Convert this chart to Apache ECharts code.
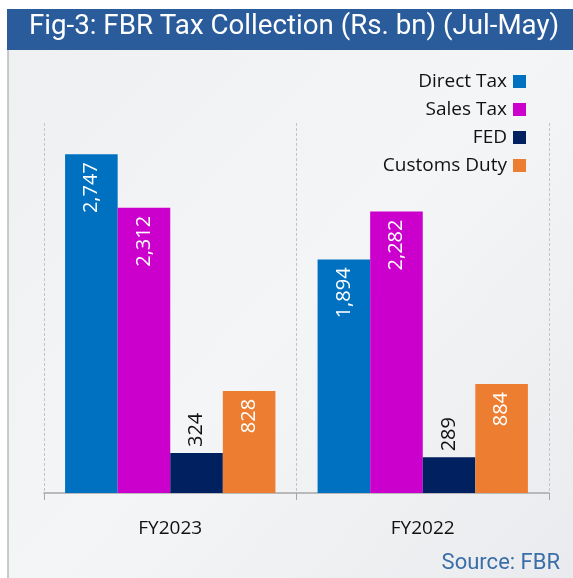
<!DOCTYPE html>
<html>
<head>
<meta charset="utf-8">
<script src="https://cdn.jsdelivr.net/npm/echarts@6/dist/echarts.min.js"></script>
<style>
  html, body { margin: 0; padding: 0; background: #fff; }
  #chart { width: 573px; height: 578px; }
</style>
</head>
<body>
<div id="chart"></div>
<script>
// Data (Rs. bn, Jul-May)
const years = ['FY2023', 'FY2022'];
const seriesNames = ['Direct Tax', 'Sales Tax', 'FED', 'Customs Duty'];
const directTax = [2747, 1894];
const salesTax = [2312, 2282];
const fed = [324, 289];
const customsDuty = [828, 884];

const colors = ['#0070c0', '#cc00cc', '#002060', '#ed7d31'];
const seriesValues = [directTax, salesTax, fed, customsDuty];

const labelFont = '"Open Sans", sans-serif';

function fmt(v) {
    return v.toLocaleString('en-US');
}

// Tall bars carry a white label inside, short ones a dark label above
function buildData(values) {
    return values.map(v => {
        if (v < 500) {
            return {
                value: v,
                label: {
                    position: 'top',
                    rotate: 90,
                    align: 'left',
                    verticalAlign: 'middle',
                    distance: 6,
                    color: '#111'
                }
            };
        }
        return { value: v };
    });
}

const chart = echarts.init(document.getElementById('chart'));

const option = {
    animation: false,
    graphic: [
        {
            type: 'rect',
            shape: { x: 8, y: 50, width: 565, height: 528 },
            style: {
                fill: new echarts.graphic.LinearGradient(0, 0, 1, 1, [
                    { offset: 0, color: '#eef0f2' },
                    { offset: 0.5, color: '#f4f5f6' },
                    { offset: 1, color: '#e9ebee' }
                ])
            },
            z: -10
        },
        {
            type: 'line',
            shape: { x1: 8, y1: 50, x2: 8, y2: 578 },
            style: { stroke: '#b8b8b8', lineWidth: 1.5 },
            z: -9
        },
        {
            type: 'rect',
            shape: { x: 7, y: 9, width: 566, height: 41 },
            style: { fill: '#2a5b9a' },
            z: -8
        },
        {
            type: 'text',
            left: 29,
            top: 13,
            style: {
                text: 'Fig-3: FBR Tax Collection (Rs. bn) (Jul-May)',
                fill: '#fff',
                font: '27.7px Roboto, sans-serif'
            }
        },
        {
            type: 'text',
            right: 13,
            top: 552,
            style: {
                text: 'Source: FBR',
                fill: '#3a6ea8',
                font: '22px Roboto, sans-serif'
            }
        }
    ],
    legend: {
        data: seriesNames,
        orient: 'vertical',
        right: 42,
        top: 67,
        align: 'right',
        itemWidth: 13,
        itemHeight: 13,
        itemGap: 9,
        icon: 'rect',
        textStyle: {
            fontFamily: labelFont,
            fontSize: 19,
            color: '#111',
            padding: [0, 1, 0, 0]
        }
    },
    grid: {
        left: 44,
        right: 24,
        top: 123,
        bottom: 85
    },
    xAxis: {
        type: 'category',
        data: years,
        axisLine: { lineStyle: { color: '#a6a6a6', width: 1.5 } },
        axisTick: { show: true, length: 7, lineStyle: { color: '#a6a6a6' } },
        axisLabel: {
            fontFamily: labelFont,
            fontSize: 19,
            color: '#111',
            margin: 26
        },
        splitLine: {
            show: true,
            lineStyle: { color: '#c4c4c4', type: [3, 2], width: 1 }
        }
    },
    yAxis: {
        type: 'value',
        min: 0,
        max: 3000,
        show: false,
        splitLine: { show: false }
    },
    series: seriesNames.map((name, i) => ({
        name: name,
        type: 'bar',
        data: buildData(seriesValues[i]),
        barGap: '0%',
        barCategoryGap: '16.7%',
        itemStyle: { color: colors[i] },
        label: {
            show: true,
            position: 'insideTop',
            rotate: 90,
            align: 'right',
            verticalAlign: 'middle',
            distance: 8,
            color: '#fff',
            fontFamily: labelFont,
            fontSize: 20,
            formatter: p => fmt(p.value)
        }
    }))
};

chart.setOption(option);
</script>
</body>
</html>
